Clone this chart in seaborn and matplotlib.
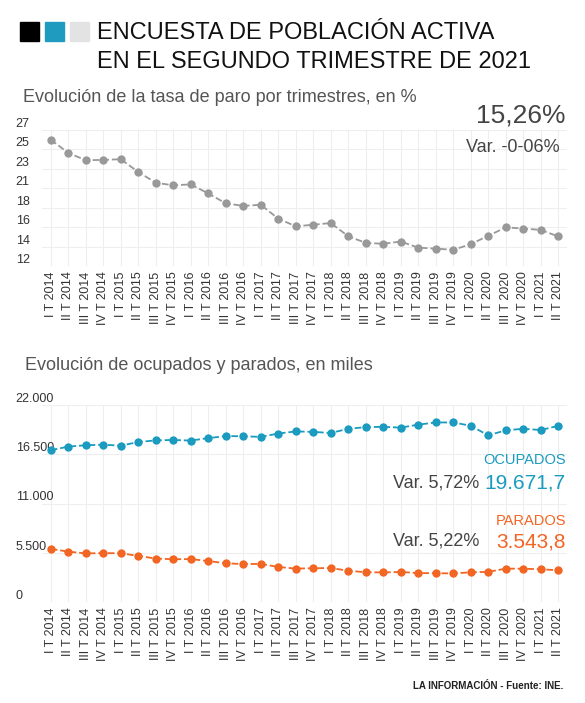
import matplotlib
matplotlib.use("Agg")
import matplotlib.pyplot as plt
import seaborn as sns
import numpy as np
import pandas as pd

quarters = [f"{q} T {y}" for y in range(2014, 2022) for q in ["I", "II", "III", "IV"]][:30]
tasa = [25.93, 24.47, 23.67, 23.70, 23.78, 22.37, 21.18, 20.90, 21.00, 20.00, 18.91, 18.63,
        18.75, 17.22, 16.38, 16.55, 16.74, 15.28, 14.55, 14.45, 14.70, 14.02, 13.92, 13.78,
        14.41, 15.33, 16.26, 16.13, 15.98, 15.26]
ocupados = [16950.6, 17353.0, 17504.0, 17569.1, 17454.8, 17866.5, 18048.7, 18094.2, 18029.6, 18301.0,
            18527.5, 18508.1, 18438.3, 18813.3, 19049.2, 18998.4, 18874.2, 19344.1, 19528.0, 19564.6,
            19471.1, 19804.9, 20052.0, 20051.0, 19681.3, 18607.2, 19176.9, 19344.3, 19206.8, 19671.7]
parados = [5933.3, 5622.9, 5427.7, 5457.7, 5444.6, 5149.0, 4850.8, 4779.5, 4791.4, 4574.7,
           4320.8, 4237.8, 4255.0, 3914.3, 3731.7, 3766.7, 3796.1, 3490.3, 3326.0, 3304.3,
           3354.2, 3230.6, 3214.4, 3191.9, 3313.0, 3368.0, 3722.9, 3719.8, 3653.9, 3543.8]

sns.set_theme(style="white")
plt.rcParams['font.family'] = ['Liberation Sans', 'DejaVu Sans']

W, H = 585, 703
fig = plt.figure(figsize=(W/100, H/100), dpi=100)
fig.patch.set_facecolor("white")

def ax_rect(x0, y0, x1, y1):
    return [x0/W, 1-y1/H, (x1-x0)/W, (y1-y0)/H]

GRAY = "#999999"; TEAL = "#1a9bbf"; ORANGE = "#f26522"; TXT = "#555555"
x = np.arange(len(quarters))

for i, c in enumerate(["#000000", "#1f9bbf", "#e3e3e3"]):
    fig.patches.append(plt.Rectangle(((20+25*i)/W, 1-41/H), 19/W, 19/H, color=c,
                                     transform=fig.transFigure, figure=fig))
fig.text(97/W, 1-33/H, "ENCUESTA DE POBLACIÓN ACTIVA", fontsize=17, va="center", color="#111")
fig.text(97/W, 1-62/H, "EN EL SEGUNDO TRIMESTRE DE 2021", fontsize=17, va="center", color="#111")

def style(ax, ticks, labels):
    ax.set_xlim(-0.5, len(quarters)-0.5)
    ax.set_xticks(x)
    ax.set_xticklabels(quarters, rotation=90, fontsize=9, color="#333")
    ax.set_yticks(ticks)
    ax.set_yticklabels(labels, fontsize=9, color="#333")
    ax.grid(True, color="#eeeeee", lw=0.8)
    for s in ax.spines.values():
        s.set_visible(False)
    ax.tick_params(axis="y", pad=19, length=0)
    ax.tick_params(axis="x", length=0, pad=4)
    for t in ax.get_yticklabels():
        t.set_horizontalalignment("left")
        t.set_verticalalignment("bottom")

ax1 = fig.add_axes(ax_rect(42, 130, 567, 266))
df1 = pd.DataFrame({"x": x, "v": tasa})
sns.lineplot(data=df1, x="x", y="v", ax=ax1, color=GRAY, lw=1.3, linestyle="--",
             marker="o", markersize=6, markeredgewidth=0)
ax1.set_ylim(12, 27)
t1 = np.linspace(12, 27, 8)
style(ax1, t1, [f"{v:.0f}" for v in t1])
ax1.set_xlabel(""); ax1.set_ylabel("")
fig.text(23/W, 1-98/H, "Evolución de la tasa de paro por trimestres, en %", fontsize=13, color=TXT, va="center")
fig.text(566/W, 1-116/H, "15,26%", fontsize=19, color="#444", ha="right", va="center")
fig.text(560/W, 1-148/H, "Var. -0-06%", fontsize=13, color="#444", ha="right", va="center")

ax2 = fig.add_axes(ax_rect(42, 405, 567, 602))
df2 = pd.DataFrame({"x": np.concatenate([x, x]), "v": ocupados + parados,
                    "s": ["Ocupados"]*30 + ["Parados"]*30})
sns.lineplot(data=df2, x="x", y="v", hue="s", palette={"Ocupados": TEAL, "Parados": ORANGE},
             ax=ax2, lw=1.3, marker="o", markersize=6, markeredgewidth=0, legend=False)
for l in ax2.lines:
    l.set_linestyle("--")
ax2.set_ylim(0, 22000)
t2 = [0, 5500, 11000, 16500, 22000]
style(ax2, t2, ["0", "5.500", "11.000", "16.500", "22.000"])
ax2.set_xlabel(""); ax2.set_ylabel("")
fig.text(25/W, 1-366/H, "Evolución de ocupados y parados, en miles", fontsize=13, color=TXT, va="center")
fig.text(566/W, 1-460/H, "OCUPADOS", fontsize=10.5, color=TEAL, ha="right", va="center")
fig.text(566/W, 1-483/H, "19.671,7", fontsize=15, color=TEAL, ha="right", va="center")
fig.text(479/W, 1-483/H, "Var. 5,72%", fontsize=13, color="#444", ha="right", va="center")
fig.text(566/W, 1-521/H, "PARADOS", fontsize=10.5, color=ORANGE, ha="right", va="center")
fig.text(566/W, 1-542/H, "3.543,8", fontsize=15, color=ORANGE, ha="right", va="center")
fig.text(479/W, 1-541/H, "Var. 5,22%", fontsize=13, color="#444", ha="right", va="center")

fig.text(563/W, 1-686/H, "LA INFORMACIÓN - Fuente: INE.", fontsize=7, color="#222",
         ha="right", va="center", fontweight="bold")

fig.savefig("out.png", dpi=100, facecolor="white")
